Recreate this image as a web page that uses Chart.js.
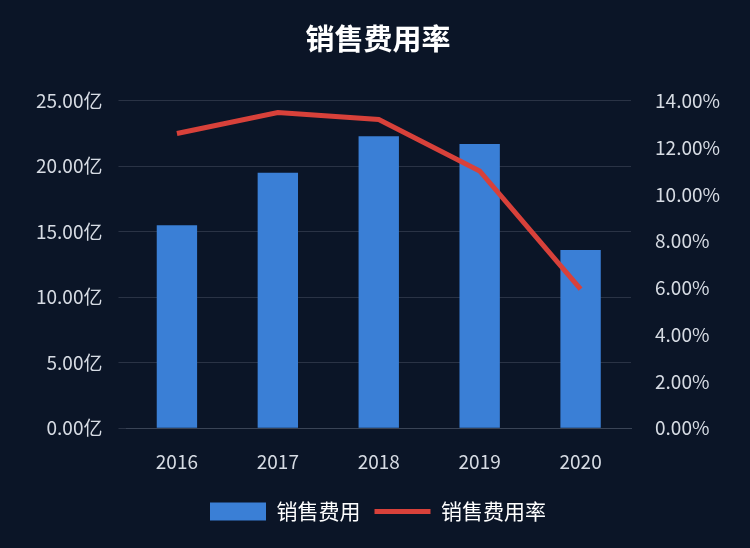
<!DOCTYPE html>
<html>
<head>
<meta charset="utf-8">
<script src="https://cdn.jsdelivr.net/npm/chart.js@4"></script>
<style>
  html, body { margin: 0; padding: 0; background: #0b1527; }
  #wrap { width: 750px; height: 548px; position: relative; }
</style>
</head>
<body>
<div id="wrap"><canvas id="c" width="750" height="548"></canvas></div>
<script>
const years = ['2016', '2017', '2018', '2019', '2020'];
const salesExpense = [15.5, 19.5, 22.3, 21.7, 13.6];   // 亿
const expenseRate = [12.6, 13.5, 13.2, 11.0, 5.95];    // %

const font = "'Noto Sans CJK SC', 'Noto Sans', sans-serif";
Chart.defaults.font.family = font;
Chart.defaults.color = '#d6dbe3';

new Chart(document.getElementById('c'), {
    data: {
        labels: years,
        datasets: [{
            type: 'line',
            label: '销售费用率',
            data: expenseRate,
            yAxisID: 'y1',
            borderColor: '#d8413a',
            backgroundColor: '#d8413a',
            borderWidth: 5,
            pointRadius: 0,
            tension: 0,
            order: 0
        }, {
            type: 'bar',
            label: '销售费用',
            data: salesExpense,
            yAxisID: 'y',
            backgroundColor: '#3a7fd6',
            categoryPercentage: 1,
            barPercentage: 0.4,
            order: 1
        }]
    },
    options: {
        responsive: false,
        animation: false,
        layout: { padding: { left: 20, right: 14, top: 14, bottom: 16 } },
        plugins: {
            title: {
                display: true,
                text: '销售费用率',
                color: '#ffffff',
                font: { size: 29, weight: 'bold', family: font },
                padding: { top: 8, bottom: 44 }
            },
            legend: {
                position: 'bottom',
                reverse: true,
                labels: {
                    font: { size: 21 },
                    color: '#ffffff',
                    padding: 14,
                    usePointStyle: true,
                    pointStyleWidth: 56,
                    boxHeight: 18,
                    generateLabels: function(chart) {
                        return chart.data.datasets.map((ds, i) => ({
                            text: ds.label,
                            fillStyle: ds.backgroundColor,
                            strokeStyle: ds.borderColor || ds.backgroundColor,
                            lineWidth: ds.type === 'line' ? 5 : 0,
                            fontColor: '#ffffff',
                            datasetIndex: i,
                            pointStyle: ds.type === 'line' ? 'line' : 'rect'
                        }));
                    }
                }
            },
            tooltip: { enabled: false }
        },
        scales: {
            x: {
                grid: { display: false },
                border: { color: '#3a4456' },
                ticks: { font: { size: 19 }, color: '#d6dbe3', padding: 14 }
            },
            y: {
                position: 'left',
                min: 0,
                max: 25,
                ticks: {
                    stepSize: 5,
                    font: { size: 19 },
                    color: '#d6dbe3',
                    padding: 16,
                    callback: v => v.toFixed(2) + '亿'
                },
                grid: { color: '#2a3345' },
                border: { display: false }
            },
            y1: {
                position: 'right',
                min: 0,
                max: 14,
                ticks: {
                    stepSize: 2,
                    font: { size: 19 },
                    color: '#d6dbe3',
                    padding: 16,
                    callback: v => v.toFixed(2) + '%'
                },
                grid: { display: false },
                border: { display: false }
            }
        }
    }
});
</script>
</body>
</html>
